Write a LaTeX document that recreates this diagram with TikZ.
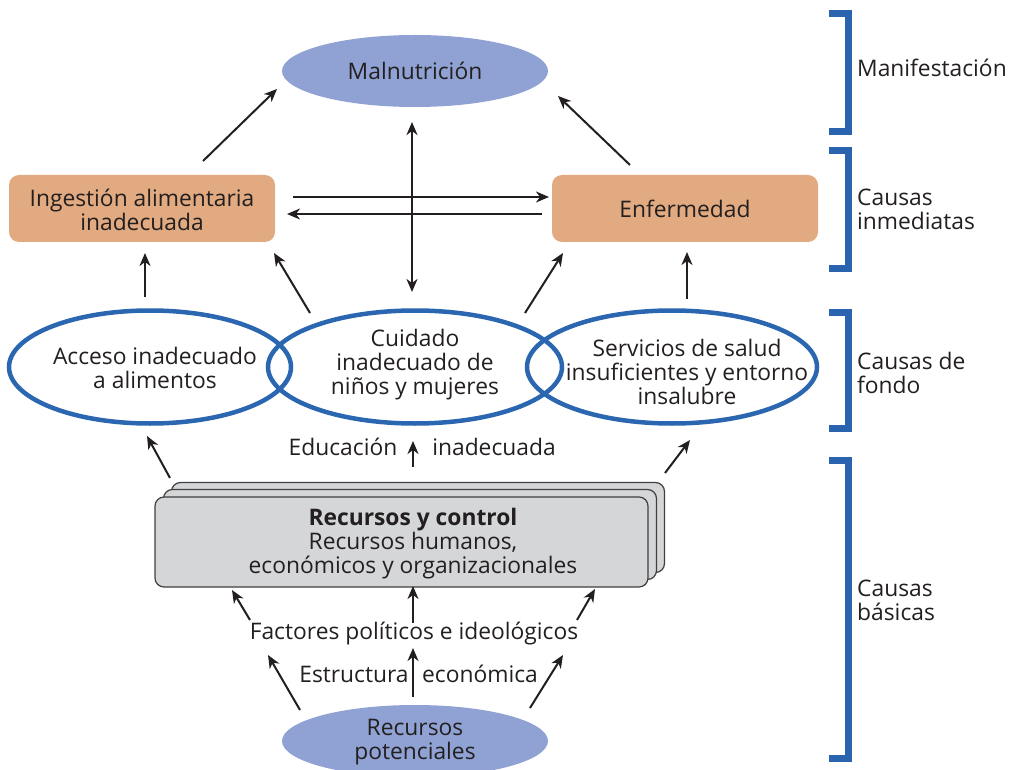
\documentclass[tikz,border=0pt]{standalone}
\usepackage{fontspec}
\setmainfont{Open Sans}
\usetikzlibrary{arrows.meta,shapes.geometric}
\definecolor{malblue}{RGB}{143,162,211}
\definecolor{orbox}{RGB}{225,170,128}
\definecolor{ringblue}{RGB}{43,102,176}
\definecolor{brkblue}{RGB}{42,100,174}
\definecolor{grayfill}{RGB}{213,214,216}
\definecolor{txtc}{RGB}{35,31,32}
\begin{document}
\begin{tikzpicture}[x=1pt,y=-1pt,
  every node/.style={text=txtc, font=\fontsize{22.8}{24}\selectfont, align=center, inner sep=0pt},
  txt/.style={},
  blob/.style={ellipse, fill=malblue, minimum width=266pt, minimum height=72pt},
  obox/.style={rectangle, rounded corners=10pt, fill=orbox, minimum width=266pt, minimum height=67pt},
  ring/.style={ellipse, draw=ringblue, line width=4.5pt, minimum height=113pt},
  gbox/.style={rectangle, rounded corners=9pt, fill=grayfill, draw=black!75, line width=1.2pt, minimum width=493pt, minimum height=90pt},
  arr/.style={-{Stealth[length=13pt,width=11pt,inset=4pt]}, line width=2pt, draw=txtc},
  darr/.style={{Stealth[length=13pt,width=11pt,inset=4pt]}-{Stealth[length=13pt,width=11pt,inset=4pt]}, line width=2pt, draw=txtc},
  brk/.style={draw=brkblue, line width=7pt, line join=miter},
  lbl/.style={anchor=west, align=left}
]
\useasboundingbox (0,0) rectangle (1020,770);
\clip (0,0) rectangle (1020,770);

% top
\node[blob] (mal) at (415,71) {Malnutrición};
\node[obox] (ing) at (142,208.5) {};
\node[txt] (ingt) at (142,210) {Ingestión alimentaria\\inadecuada};
\node[obox] (enf) at (685,208.5) {Enfermedad};

% rings
\node[ring, minimum width=282pt] (acc) at (150,367) {};
\node[ring, minimum width=294pt] (cui) at (415,367) {};
\node[ring, minimum width=290pt] (ser) at (672,367) {};
\node[txt] (acct) at (155,368) {Acceso inadecuado\\a alimentos};
\node[txt] (cuit) at (415,365) {Cuidado\\inadecuado de\\niños y mujeres};
\node[txt] (sert) at (687,372) {Servicios de salud\\insuficientes y entorno\\insalubre};

\node[txt] (edu) at (343,447) {Educación};
\node[txt] (ina) at (494,447) {inadecuada};

% stack
\node[gbox] (rc3) at (418,527.5) {};
\node[gbox] (rc2) at (410,534.5) {};
\node[gbox] (rc1) at (401.5,542) {};
\node[txt] (rct) at (413,544) {\textbf{Recursos y control}\\Recursos humanos,\\económicos y organizacionales};

\node[txt] (fac) at (414,634) {Factores políticos e ideológicos};
\node[txt] (est) at (354,674) {Estructura};
\node[txt] (eco) at (480,674) {económica};

\node[blob] (rp) at (415,741) {};
\node[txt] (rpt) at (415,742) {Recursos\\potenciales};

% connector end points
\coordinate (a1s) at (203,161); \coordinate (a1e) at (277,89);
\coordinate (a2s) at (630,165); \coordinate (a2e) at (558,96);
\coordinate (a3s) at (412,122); \coordinate (a3e) at (412,292);
\coordinate (a4s) at (293,197); \coordinate (a4e) at (549,197);
\coordinate (a5s) at (542,214); \coordinate (a5e) at (287,214);
\coordinate (a6s) at (145,297); \coordinate (a6e) at (145,253);
\coordinate (a7s) at (310,313); \coordinate (a7e) at (274,253);
\coordinate (a8s) at (525,313); \coordinate (a8e) at (563,253);
\coordinate (a9s) at (687,299); \coordinate (a9e) at (687,252);
\coordinate (b1s) at (170,478); \coordinate (b1e) at (147,436);
\coordinate (b2s) at (413,467); \coordinate (b2e) at (413,441);
\coordinate (b3s) at (665,473); \coordinate (b3e) at (690,440);
\coordinate (c1s) at (250,620); \coordinate (c1e) at (232,590);
\coordinate (c2s) at (413,623); \coordinate (c2e) at (413,586);
\coordinate (c3s) at (577,620); \coordinate (c3e) at (595,589);
\coordinate (d1s) at (300,710); \coordinate (d1e) at (268,655);
\coordinate (d2s) at (413,697); \coordinate (d2e) at (413,648);
\coordinate (d3s) at (530,708); \coordinate (d3e) at (563,655);

\draw[arr] (a1s) -- (a1e);
\draw[arr] (a2s) -- (a2e);
\draw[darr] (a3s) -- (a3e);
\draw[arr] (a4s) -- (a4e);
\draw[arr] (a5s) -- (a5e);
\draw[arr] (a6s) -- (a6e);
\draw[arr] (a7s) -- (a7e);
\draw[arr] (a8s) -- (a8e);
\draw[arr] (a9s) -- (a9e);
\draw[arr] (b1s) -- (b1e);
\draw[arr] (b2s) -- (b2e);
\draw[arr] (b3s) -- (b3e);
\draw[arr] (c1s) -- (c1e);
\draw[arr] (c2s) -- (c2e);
\draw[arr] (c3s) -- (c3e);
\draw[arr] (d1s) -- (d1e);
\draw[arr] (d2s) -- (d2e);
\draw[arr] (d3s) -- (d3e);

% brackets
\draw[brk] (829,13.5) -- (848,13.5) -- (848,131.5) -- (829,131.5);
\draw[brk] (829,150.5) -- (848,150.5) -- (848,268.5) -- (829,268.5);
\draw[brk] (829,312.5) -- (848,312.5) -- (848,428.5) -- (829,428.5);
\draw[brk] (829,460.5) -- (848,460.5) -- (848,758.5) -- (829,758.5);

\node[lbl] (l1) at (857,68) {Manifestación};
\node[lbl] (l2) at (857,209) {Causas\\inmediatas};
\node[lbl] (l3) at (857,373) {Causas de\\fondo};
\node[lbl] (l4) at (857,600) {Causas\\básicas};
\end{tikzpicture}
\end{document}
